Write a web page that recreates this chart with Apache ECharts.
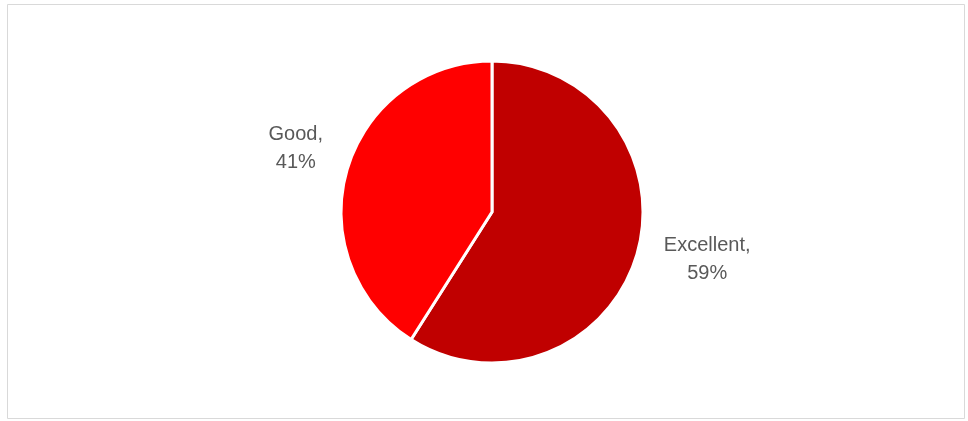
<!DOCTYPE html>
<html>
<head>
<meta charset="utf-8">
<script src="https://cdn.jsdelivr.net/npm/echarts@6/dist/echarts.min.js"></script>
<style>
  html, body { margin: 0; padding: 0; background: #ffffff; }
  #chart { width: 968px; height: 421px; }
</style>
</head>
<body>
<div id="chart"></div>
<script>
// Rating shares
const categories = ['Excellent', 'Good'];
const shares = [59, 41];
const sliceColors = ['#C00000', '#FF0000'];

// small nudges for the outside labels (best-fit style placement)
const labelNudge = [[16, 0], [3, -16]];

const chart = echarts.init(document.getElementById('chart'), null, { renderer: 'canvas' });

chart.setOption({
  backgroundColor: '#ffffff',
  animation: false,
  graphic: [{
    type: 'rect',
    shape: { x: 7.5, y: 4.5, width: 957, height: 414 },
    style: { fill: 'none', stroke: '#D9D9D9', lineWidth: 1 },
    silent: true
  }],
  series: [{
    type: 'pie',
    center: [492, 212],
    radius: [0, 151],
    startAngle: 90,
    clockwise: true,
    avoidLabelOverlap: false,
    itemStyle: { borderColor: '#ffffff', borderWidth: 3 },
    label: {
      show: true,
      position: 'outside',
      formatter: (p) => p.name + ',\n' + p.value + '%',
      fontFamily: 'Liberation Sans, Arial, sans-serif',
      fontSize: 20,
      lineHeight: 28,
      color: '#595959',
      align: 'center'
    },
    labelLine: { show: false, length: 20, length2: 30 },
    labelLayout: (params) => ({
      align: 'center',
      dx: labelNudge[params.dataIndex][0],
      dy: labelNudge[params.dataIndex][1]
    }),
    data: categories.map((name, i) => ({
      name: name,
      value: shares[i],
      itemStyle: { color: sliceColors[i] }
    }))
  }]
});
</script>
</body>
</html>
